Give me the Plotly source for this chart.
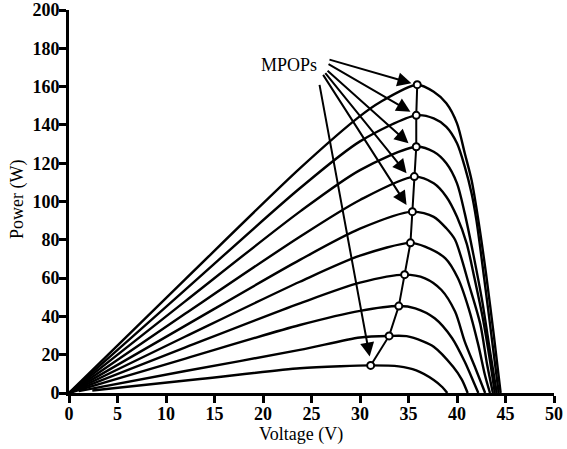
import plotly.graph_objects as go

# P-V curves (voltage in V, power in W)
v_c1 = [2.4, 13.5, 23.8, 28.0, 31.1, 34.0, 35.8, 37.6, 38.5, 39.0]
p_c1 = [1.3, 7.3, 12.9, 14.0, 14.4, 13.9, 11.8, 6.8, 3.0, 0.0]

v_c2 = [1.0, 12.0, 23.8, 30.0, 33.0, 34.8, 36.5, 37.6, 39.6, 40.5, 41.1]
p_c2 = [1.0, 11.5, 22.5, 29.0, 29.8, 29.7, 27.0, 24.2, 13.7, 7.0, 0.0]

v_c3 = [0.0, 12.0, 23.8, 30.0, 34.0, 35.7, 37.7, 39.5, 40.8, 41.7, 42.2]
p_c3 = [0.0, 18.0, 35.5, 42.9, 45.4, 44.2, 39.0, 28.6, 16.3, 5.9, 0.0]

v_c4 = [0.0, 12.0, 23.8, 30.0, 34.6, 36.7, 38.4, 39.8, 40.8, 41.9, 42.9]
p_c4 = [0.0, 23.8, 46.8, 57.6, 61.8, 59.9, 53.8, 42.5, 26.8, 12.9, 0.0]

v_c5 = [0.0, 12.0, 23.8, 30.0, 35.2, 36.7, 38.8, 40.1, 41.2, 42.2, 42.9, 43.4]
p_c5 = [0.0, 29.5, 58.1, 71.7, 78.4, 76.4, 70.3, 59.9, 44.2, 25.0, 9.0, 0.0]

v_c6 = [0.0, 12.0, 23.8, 30.0, 35.4, 37.6, 38.9, 39.8, 41.3, 42.4, 43.1, 43.7]
p_c6 = [0.0, 35.2, 69.5, 85.8, 94.7, 92.0, 86.0, 80.0, 55.5, 36.0, 15.0, 0.0]

v_c7 = [0.0, 12.0, 23.8, 30.0, 35.6, 37.6, 38.9, 40.0, 41.0, 41.8, 42.7, 43.4, 43.9]
p_c7 = [0.0, 41.5, 81.6, 100.8, 113.0, 109.5, 102.5, 92.0, 78.0, 60.0, 38.0, 17.0, 0.0]

v_c8 = [0.0, 12.0, 23.8, 30.0, 35.8, 37.6, 38.9, 40.0, 40.8, 41.7, 42.6, 43.4, 44.1]
p_c8 = [0.0, 48.0, 94.7, 116.4, 128.6, 126.0, 120.0, 109.5, 93.8, 72.0, 48.0, 22.0, 0.0]

v_c9 = [0.0, 12.0, 23.8, 30.0, 35.8, 37.6, 38.9, 40.0, 40.8, 41.5, 42.0, 42.8, 43.6, 44.3]
p_c9 = [0.0, 54.0, 106.9, 131.4, 145.0, 143.4, 139.0, 130.4, 118.2, 104.3, 90.3, 60.0, 28.0, 0.0]

v_c10 = [0.0, 12.0, 23.8, 30.0, 32.1, 35.9, 37.6, 38.9, 40.0, 40.8, 41.5, 42.2, 43.0, 43.8, 44.5]
p_c10 = [0.0, 59.5, 117.3, 144.6, 152.0, 161.0, 157.3, 151.3, 140.8, 125.2, 111.2, 90.3, 62.0, 30.0, 0.0]

# maximum power operating points
mpp_v = [31.1, 33.0, 34.0, 34.6, 35.2, 35.4, 35.6, 35.8, 35.8, 35.9]
mpp_p = [14.4, 29.8, 45.4, 61.8, 78.4, 94.7, 113.0, 128.6, 145.0, 161.0]

# annotation arrows (tail near label -> head near points)
arrow_tail_v = [26.7, 26.6, 26.5, 26.3, 26.1, 25.8]
arrow_tail_p = [174.3, 172.2, 169.0, 167.8, 166.9, 161.7]
arrow_head_v = [35.3, 35.2, 35.0, 34.8, 34.8, 31.0]
arrow_head_p = [161.7, 146.9, 130.4, 114.7, 98.2, 19.0]

x_ticks = [0, 5, 10, 15, 20, 25, 30, 35, 40, 45, 50]
y_ticks = [0, 20, 40, 60, 80, 100, 120, 140, 160, 180, 200]

curves = [(v_c1, p_c1), (v_c2, p_c2), (v_c3, p_c3), (v_c4, p_c4), (v_c5, p_c5),
          (v_c6, p_c6), (v_c7, p_c7), (v_c8, p_c8), (v_c9, p_c9), (v_c10, p_c10)]

SERIF = "Liberation Serif, Times New Roman, serif"
L, R, T, B = 69, 13, 10, 56
W, H = 567, 449
PW, PH = W - L - R, H - T - B

fig = go.Figure()
for v, p in curves:
    fig.add_trace(go.Scatter(x=v, y=p, mode="lines",
                             line=dict(color="black", width=2.4, shape="spline", smoothing=0.8),
                             hoverinfo="skip", showlegend=False))

fig.add_trace(go.Scatter(x=mpp_v, y=mpp_p, mode="lines+markers",
                         line=dict(color="black", width=2),
                         marker=dict(symbol="circle", size=7, color="white",
                                     line=dict(color="black", width=2)),
                         showlegend=False))

for tv, tp, hv, hp in zip(arrow_tail_v, arrow_tail_p, arrow_head_v, arrow_head_p):
    fig.add_annotation(x=hv, y=hp, ax=tv, ay=tp, xref="x", yref="y",
                       axref="x", ayref="y", text="", showarrow=True,
                       arrowhead=2, arrowsize=1.4, arrowwidth=2,
                       arrowcolor="black", standoff=0, startstandoff=0)

def px_to_paper(px, py):
    return (px - L) / PW, (H - B - py) / PH

mx, my = px_to_paper(289, 65)
fig.add_annotation(x=mx, y=my, xref="paper", yref="paper", text="MPOPs",
                   showarrow=False, xanchor="center", yanchor="middle",
                   font=dict(family=SERIF, size=18, color="black"))

tx, ty = px_to_paper(301, 434)
fig.add_annotation(x=tx, y=ty, xref="paper", yref="paper", text="Voltage (V)",
                   showarrow=False, xanchor="center", yanchor="middle",
                   font=dict(family=SERIF, size=18, color="black"))

yx, yy = px_to_paper(17, 200)
fig.add_annotation(x=yx, y=yy, xref="paper", yref="paper", text="Power (W)",
                   showarrow=False, xanchor="center", yanchor="middle", textangle=-90,
                   font=dict(family=SERIF, size=18, color="black"))

fig.update_layout(
    width=W, height=H,
    margin=dict(l=L, r=R, t=T, b=B),
    paper_bgcolor="white", plot_bgcolor="white",
    xaxis=dict(range=[0, 50], tickvals=x_ticks, ticktext=[f"<b>{t}</b>" for t in x_ticks],
               showgrid=False, zeroline=False, automargin=False,
               showline=True, linecolor="black", linewidth=3,
               ticks="outside", ticklen=7, tickwidth=3, tickcolor="black",
               ticklabelstandoff=-5,
               tickfont=dict(family=SERIF, size=18, color="black")),
    yaxis=dict(range=[0, 200], tickvals=y_ticks, ticktext=[f"<b>{t}</b>" for t in y_ticks],
               showgrid=False, zeroline=False, automargin=False,
               showline=True, linecolor="black", linewidth=3,
               ticks="outside", ticklen=7, tickwidth=3, tickcolor="black",
               ticklabelstandoff=-4,
               tickfont=dict(family=SERIF, size=18, color="black")),
)

fig.write_html("out.html")
